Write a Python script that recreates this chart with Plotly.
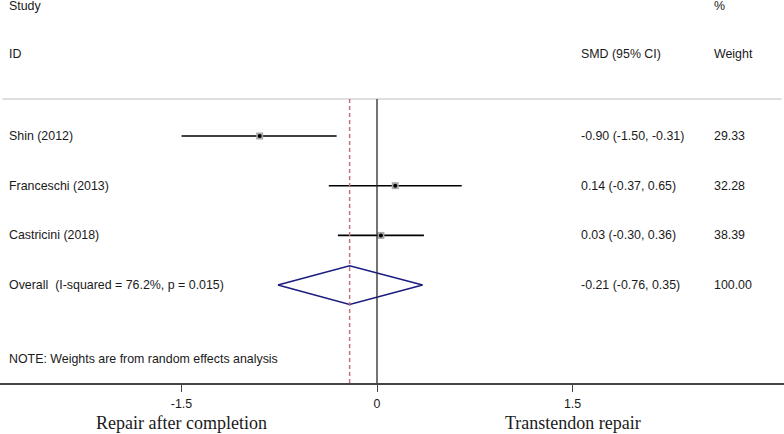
import plotly.graph_objects as go

studies = ["Shin (2012)", "Franceschi (2013)", "Castricini (2018)"]
smd = [-0.90, 0.14, 0.03]
lo = [-1.50, -0.37, -0.30]
hi = [-0.31, 0.65, 0.36]
weights = [29.33, 32.28, 38.39]
overall_label = "Overall  (I-squared = 76.2%, p = 0.015)"
overall = -0.21
overall_lo = -0.76
overall_hi = 0.35
overall_weight = 100.00
tick_vals = [-1.5, 0, 1.5]
tick_text = ["-1.5", "0", "1.5"]
left_label = "Repair after completion"
right_label = "Transtendon repair"
note = "NOTE: Weights are from random effects analysis"

W, H = 784, 434
PX_PER_UNIT = 130.33
ZERO_PX = 377
xmin = -ZERO_PX / PX_PER_UNIT
xmax = (W - ZERO_PX) / PX_PER_UNIT

ROW0_PX, ROW_STEP = 136, 49.7
PLOT_BOTTOM = 383
y_top = -ROW0_PX / ROW_STEP
y_bot = (PLOT_BOTTOM - ROW0_PX) / ROW_STEP


def ypix(p):
    return (p - ROW0_PX) / ROW_STEP


y_line = ypix(99)
rows = list(range(len(studies)))
y_overall = len(studies)

fig = go.Figure()
font = dict(family="Liberation Sans, Arial, sans-serif", size=12.4, color="#1a1a1a")

# CI lines
for i in rows:
    fig.add_trace(go.Scatter(x=[lo[i], hi[i]], y=[i, i], mode="lines",
                             line=dict(color="black", width=1.6),
                             showlegend=False, hoverinfo="skip"))
# weight boxes
fig.add_trace(go.Scatter(x=smd, y=rows, mode="markers",
                         marker=dict(symbol="square", size=7, color="#a8a8a8"),
                         showlegend=False, hoverinfo="skip"))
fig.add_trace(go.Scatter(x=smd, y=rows, mode="markers",
                         marker=dict(symbol="circle", size=4, color="black"),
                         showlegend=False, hoverinfo="skip"))
# overall diamond
dh = 0.39
fig.add_trace(go.Scatter(
    x=[overall_lo, overall, overall_hi, overall, overall_lo],
    y=[y_overall, y_overall - dh, y_overall, y_overall + dh, y_overall],
    mode="lines", line=dict(color="#1c1c80", width=1.6),
    showlegend=False, hoverinfo="skip"))

shapes = [
    dict(type="line", xref="paper", yref="y", x0=0.003, x1=0.997, y0=y_line, y1=y_line,
         line=dict(color="#bdbdbd", width=1.2)),
    dict(type="line", xref="x", yref="y", x0=0, x1=0, y0=y_line, y1=y_bot,
         line=dict(color="#2a2a2a", width=1.3)),
    dict(type="line", xref="x", yref="y", x0=overall, x1=overall, y0=y_line, y1=y_bot,
         line=dict(color="#c4727e", width=1.5, dash="4px,3px")),
]

ann = []


def txt(x_px, y, s, **kw):
    d = dict(x=x_px / W, xref="paper", y=y, yref="y", text=s, showarrow=False,
             xanchor="left", yanchor="middle", font=font)
    d.update(kw)
    ann.append(d)


LX, MX, RX = 7, 579, 712
txt(LX, ypix(6), "Study")
txt(LX, ypix(54), "ID")
txt(MX, ypix(54), "SMD (95% CI)")
txt(RX, ypix(6), "%")
txt(RX, ypix(54), "Weight")
for i in rows:
    txt(LX, i, studies[i])
    txt(MX, i, f"{smd[i]:.2f} ({lo[i]:.2f}, {hi[i]:.2f})")
    txt(RX, i, f"{weights[i]:.2f}")
txt(LX, y_overall, overall_label)
txt(MX, y_overall, f"{overall:.2f} ({overall_lo:.2f}, {overall_hi:.2f})")
txt(RX, y_overall, f"{overall_weight:.2f}")
txt(LX, ypix(359), note)

serif = dict(family="Liberation Serif, Times New Roman, serif", size=18, color="#1a1a1a")
for xv, s in [(-1.5, left_label), (1.5, right_label)]:
    ann.append(dict(x=xv, xref="x", y=(PLOT_BOTTOM - 423) / PLOT_BOTTOM, yref="paper",
                    text=s, showarrow=False, xanchor="center", yanchor="middle", font=serif))

fig.update_layout(
    width=W, height=H, margin=dict(l=0, r=0, t=0, b=H - PLOT_BOTTOM),
    paper_bgcolor="white", plot_bgcolor="white",
    shapes=shapes, annotations=ann,
    xaxis=dict(range=[xmin, xmax], showgrid=False, zeroline=False, showline=True,
               linecolor="#444444", linewidth=1.6, ticks="outside", ticklen=7,
               tickcolor="#444444", tickwidth=1.2, tickvals=tick_vals, ticktext=tick_text,
               tickfont=font, ticklabelstandoff=1, fixedrange=True),
    yaxis=dict(range=[y_bot, y_top], visible=False, fixedrange=True),
)

fig.write_html("out.html", config={"displayModeBar": False},
               post_script="document.body.style.margin='0';document.body.style.overflow='hidden';")
